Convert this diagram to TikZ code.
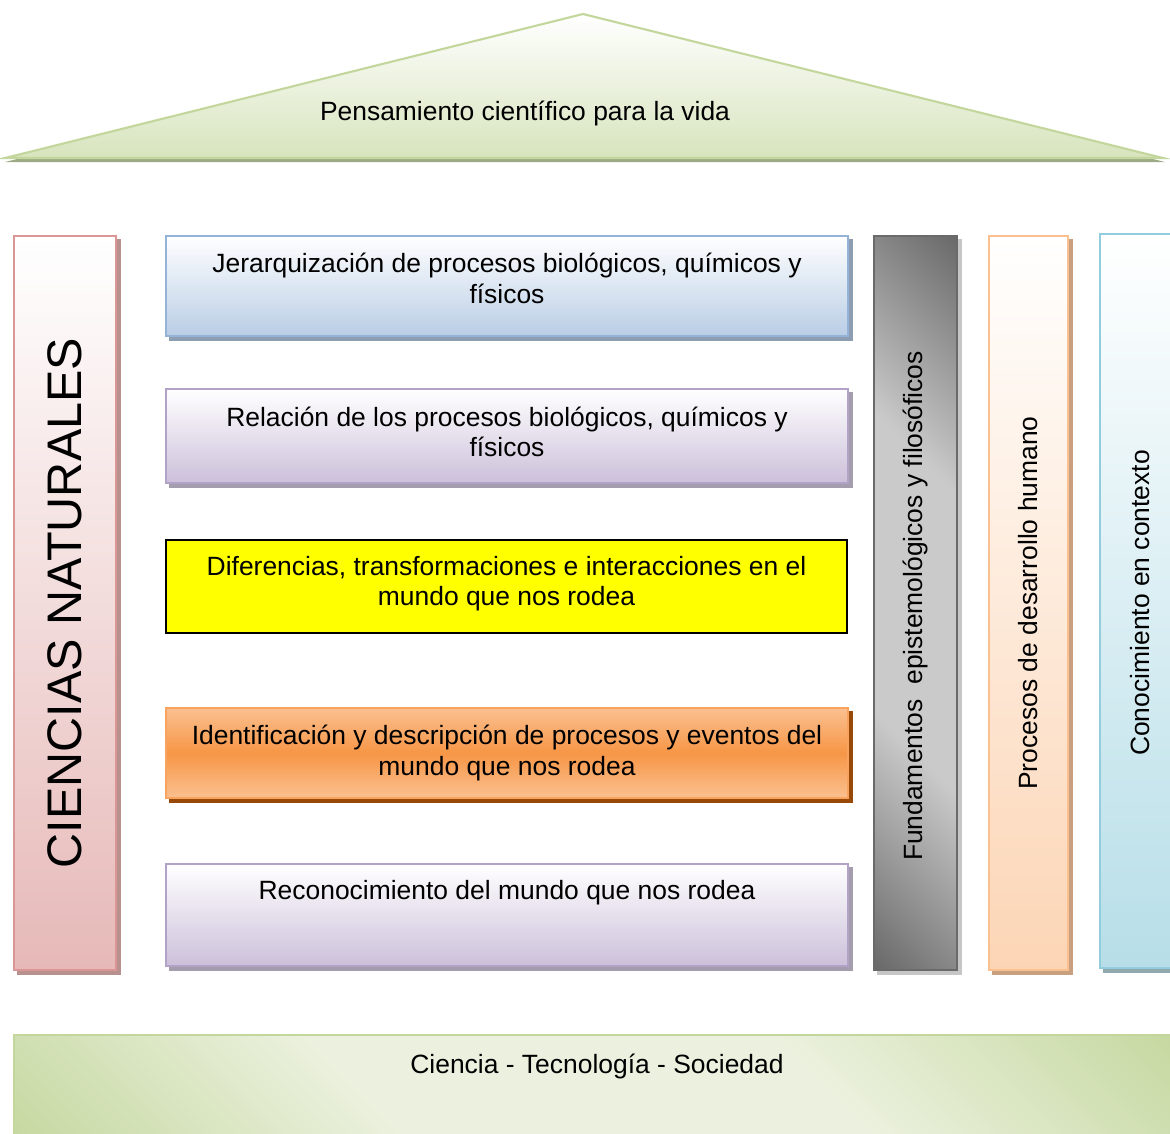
\documentclass[tikz,border=0pt]{standalone}
\usepackage{fontspec}
\setmainfont{Liberation Sans}
\usetikzlibrary{calc,backgrounds}

\definecolor{pinkline}{HTML}{D99694}
\definecolor{pinkfill}{HTML}{E6B9B8}
\definecolor{pinkshd}{HTML}{B8918F}
\definecolor{blueline}{HTML}{95B3D7}
\definecolor{bluefill}{HTML}{B9CDE5}
\definecolor{blueshd}{HTML}{8D9DB2}
\definecolor{purpline}{HTML}{B3A2C7}
\definecolor{purpfill}{HTML}{CCC0DA}
\definecolor{purpshd}{HTML}{A39DAD}
\definecolor{orline}{HTML}{F8A35F}
\definecolor{orfill}{HTML}{F79646}
\definecolor{orlight}{HTML}{FAC090}
\definecolor{orshd}{HTML}{984807}
\definecolor{yel}{HTML}{FFFF00}
\definecolor{gline}{HTML}{6A6A6A}
\definecolor{gdark}{HTML}{626262}
\definecolor{glight}{HTML}{CACACA}
\definecolor{gshd}{HTML}{C6C6C6}
\definecolor{peachline}{HTML}{FAC090}
\definecolor{peachfill}{HTML}{FCD5B5}
\definecolor{peachshd}{HTML}{C9A07F}
\definecolor{cyanline}{HTML}{93CDDD}
\definecolor{cyanfill}{HTML}{B7DEE8}
\definecolor{cyanshd}{HTML}{8FA9AF}
\definecolor{greenline}{HTML}{C3D69B}
\definecolor{greenlight}{HTML}{EBF1DE}
\definecolor{rooffill}{HTML}{D7E4BD}
\definecolor{roofshd}{HTML}{9CAB85}

\pgfdeclarehorizontalshading{grayband}{100bp}{color(0bp)=(gdark); color(13bp)=(gdark);
  color(37bp)=(glight); color(63bp)=(glight); color(87bp)=(gdark); color(100bp)=(gdark)}
\pgfdeclarehorizontalshading{greenband}{100bp}{color(0bp)=(greenline); color(13bp)=(greenline);
  color(37bp)=(greenlight); color(63bp)=(greenlight); color(87bp)=(greenline); color(100bp)=(greenline)}

\newcommand\pu{0.025cm}
\newcommand\txt{\fontsize{18.8}{21.4}\selectfont}

\begin{document}
\begin{tikzpicture}[x=0.025cm,y=-0.025cm,
  box/.style={line width=1.8pt,minimum width=682*\pu,inner sep=0pt,align=center,font=\txt},
  pillar/.style={line width=1.8pt,minimum height=734*\pu,inner sep=0pt}]
\useasboundingbox (0,0) rectangle (1170,1133);

% roof
\fill[roofshd] (5,162) -- (583,18) -- (1165,162) -- cycle;
\draw[greenline,line width=1.5pt,top color=white,bottom color=rooffill]
  (5,158) -- (583,14) -- (1163,158) -- cycle;
\node[font=\txt] (roof) at (525,114) {Pensamiento científico para la vida};

% pillars
\node[pillar,draw=pinkline,top color=white,bottom color=pinkfill,minimum width=102*\pu,
  label={[rotate=90,font=\fontsize{34.5}{40}\selectfont]center:CIENCIAS NATURALES}] (cn) at (65,603) {};
\node[pillar,draw=gline,shading=grayband,shading angle=45,minimum width=83*\pu,
  label={[rotate=90,font=\txt,xshift=-3*\pu]center:Fundamentos\ \ epistemológicos y filosóficos}] (fund) at (915.5,603) {};
\node[pillar,draw=peachline,top color=white,bottom color=peachfill,minimum width=79*\pu,
  label={[rotate=90,font=\txt]center:Procesos de desarrollo humano}] (proc) at (1028.5,603) {};
\node[pillar,draw=cyanline,top color=white,bottom color=cyanfill,minimum width=80*\pu,
  label={[rotate=90,font=\txt,xshift=-2*\pu]center:Conocimiento en contexto}] (cono) at (1140,601) {};

% boxes
\node[box,draw=blueline,top color=white,bottom color=bluefill,minimum height=100*\pu,text depth=11pt] (jer) at (507,286)
  {Jerarquización de procesos biológicos, químicos y\\físicos};
\node[box,draw=purpline,top color=white,bottom color=purpfill,minimum height=94*\pu,text depth=5.5pt] (rel) at (507,436)
  {Relación de los procesos biológicos, químicos y\\físicos};
\node[box,line width=1pt,draw=black,fill=yel,minimum height=93*\pu,minimum width=681*\pu,text depth=8pt] (dif) at (506.5,586.5)
  {Diferencias, transformaciones e interacciones en el\\mundo que nos rodea};
\node[box,draw=orline,top color=orlight,bottom color=orlight,middle color=orfill,minimum height=90*\pu] (ide) at (507,753)
  {Identificación y descripción de procesos y eventos del\\mundo que nos rodea};
\node[box,draw=purpline,top color=white,bottom color=purpfill,minimum height=102*\pu,
  text height=14pt,text depth=36pt] (rec) at (507,915) {Reconocimiento del mundo que nos rodea};

% base
\node[draw=greenline,line width=1.8pt,shading=greenband,shading angle=45,minimum width=1166*\pu,
  minimum height=115*\pu,inner sep=0pt,font=\txt,text height=14pt,text depth=41pt] (cts) at (597,1092.5)
  {Ciencia - Tecnología - Sociedad};

\begin{scope}[on background layer]
\foreach \n/\c in {cn/pinkshd,fund/gshd,proc/peachshd,cono/cyanshd,jer/blueshd,rel/purpshd,ide/orshd,rec/purpshd}
  \fill[\c] ($(\n.south west)+(4,4)$) rectangle ($(\n.north east)+(4,4)$);
\end{scope}
\end{tikzpicture}
\end{document}
